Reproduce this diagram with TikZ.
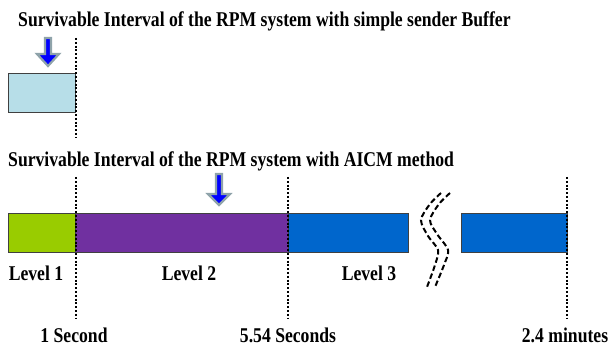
\documentclass[tikz,border=0pt]{standalone}
\usepackage{fontspec}
\setmainfont{Liberation Serif}[FakeStretch=0.84]
\usepackage{tikz}
\usetikzlibrary{calc}
\tikzset{>=latex}
\definecolor{bufcyan}{HTML}{B7DEE8}
\definecolor{lvgreen}{HTML}{99CC00}
\definecolor{lvpurple}{HTML}{7030A0}
\definecolor{lvblue}{HTML}{0066CC}
\definecolor{arrgray}{HTML}{8FA3AA}
\tikzset{
  seg/.style={draw=black!75, line width=0.9pt, anchor=north west, inner sep=0pt, minimum height=39pt},
  tick/.style={line width=2pt, dash pattern=on 2pt off 1.8pt},
  brk/.style={line width=2pt, dash pattern=on 5.5pt off 3pt},
  txt/.style={font=\fontsize{21}{24}\selectfont\bfseries, inner sep=0pt},
  dnarrow/.style={fill=blue, draw=arrgray, line width=2.2pt, line join=miter}
}

\begin{document}
\begin{tikzpicture}[x=1pt,y=-1pt]
    \useasboundingbox (0,0) rectangle (610,347);

    % Titles
    \node[txt, anchor=base west] (title1) at (18,27) {Survivable Interval of the RPM system with simple sender Buffer};
    \node[txt, anchor=base west] (title2) at (8,167) {Survivable Interval of the RPM system with AICM method};

    % Simple sender buffer
    \node[seg, fill=bufcyan, minimum width=67pt] (buf) at (8,73) {};

    % AICM levels
    \node[seg, fill=lvgreen, minimum width=67pt] (lvone) at (8,213) {};
    \node[seg, fill=lvpurple, minimum width=213pt] (lvtwo) at (75,213) {};
    \node[seg, fill=lvblue, minimum width=120pt] (lvthree) at (288,213) {};
    \node[seg, fill=lvblue, minimum width=106pt] (lvend) at (461,213) {};

    % Time marks
    \coordinate (m0t) at (76,38);
    \coordinate (m0b) at (76,138);
    \coordinate (m1t) at (75.5,177);
    \coordinate (m1b) at (75.5,318);
    \coordinate (m2t) at (288,177);
    \coordinate (m2b) at (288,318);
    \coordinate (m3t) at (567,177);
    \coordinate (m3b) at (567,318);
    \draw[tick] (m0t) -- (m0b);
    \draw[tick] (m1t) -- (m1b);
    \draw[tick] (m2t) -- (m2b);
    \draw[tick] (m3t) -- (m3b);

    % Down arrows
    \draw[dnarrow] (45,38) -- (51,38) -- (51,54) -- (59,54) -- (48,66) -- (37,54) -- (45,54) -- cycle;
    \draw[dnarrow] (216,174) -- (222,174) -- (222,194) -- (230,194) -- (219,205) -- (208,194) -- (216,194) -- cycle;

    % Break
    \draw[brk] plot[smooth] coordinates {(441,193) (430,204) (421,220) (428,236) (438,250) (435,265) (427,287)};
    \draw[brk] plot[smooth] coordinates {(450,193) (439,204) (430,220) (437,234) (448,250) (444,265) (435,287)};

    % Labels
    \node[txt, anchor=base] (l1) at (36,280) {Level 1};
    \node[txt, anchor=base] (l2) at (189,280) {Level 2};
    \node[txt, anchor=base] (l3) at (369,280) {Level 3};
    \node[txt, anchor=base] (s1) at (74,342) {1 Second};
    \node[txt, anchor=base] (s2) at (288,342) {5.54 Seconds};
    \node[txt, anchor=base] (s3) at (565,342) {2.4 minutes};
\end{tikzpicture}
\end{document}
